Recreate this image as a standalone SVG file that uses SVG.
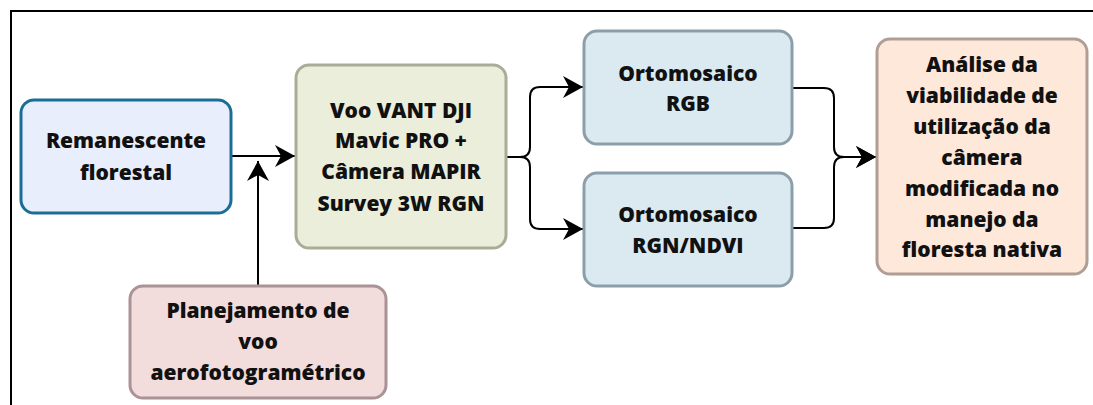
<svg xmlns="http://www.w3.org/2000/svg" width="1093" height="405" viewBox="0 0 1093 405">
<defs>
<style>
.box{stroke-width:3}
.t{font-family:"Open Sans","Noto Sans","DejaVu Sans",sans-serif;font-weight:800;font-size:21px;fill:#111;text-anchor:middle}
.c{fill:none;stroke:#000;stroke-width:2;marker-end:url(#ah)}
</style>
<marker id="ah" markerUnits="userSpaceOnUse" markerWidth="22" markerHeight="24" refX="20" refY="12" orient="auto">
<path d="M0,1 L20,12 L0,23 L6,12 z" fill="#000"/>
</marker>
</defs>
<rect width="1093" height="405" fill="#fff"/>
<path d="M11,405 V11 H1093" fill="none" stroke="#000" stroke-width="2"/>
<g id="connectors">
<path class="c" d="M232,156 H295"/>
<path class="c" d="M258,285 V161"/>
<path class="c" d="M507,157 H520 Q530,157 530,147 V97 Q530,87 540,87 H583"/>
<path class="c" d="M507,157 H520 Q530,157 530,167 V219 Q530,229 540,229 H583"/>
<path class="c" d="M793,88 H824 Q834,88 834,98 V147 Q834,157 844,157 H876"/>
<path class="c" d="M793,228 H824 Q834,228 834,218 V167 Q834,157 844,157 H876"/>
</g>
<g id="remanescente">
<rect class="box" x="21" y="100" width="210" height="113" rx="13" fill="#e8eefc" stroke="#1a6e96"/>
<text class="t" x="126" y="148">Remanescente</text>
<text class="t" x="126" y="180">florestal</text>
</g>
<g id="voo">
<rect class="box" x="296" y="65" width="210" height="183" rx="13" fill="#ebeedb" stroke="#a8ad97"/>
<text class="t" x="401" y="118">Voo VANT DJI</text>
<text class="t" x="401" y="148">Mavic PRO +</text>
<text class="t" x="401" y="179">Câmera MAPIR</text>
<text class="t" x="401" y="211">Survey 3W RGN</text>
</g>
<g id="rgb">
<rect class="box" x="584" y="31" width="208" height="113" rx="13" fill="#dbeaf1" stroke="#8c9fa9"/>
<text class="t" x="688" y="81">Ortomosaico</text>
<text class="t" x="688" y="111">RGB</text>
</g>
<g id="rgn">
<rect class="box" x="584" y="173" width="208" height="113" rx="13" fill="#dbeaf1" stroke="#8c9fa9"/>
<text class="t" x="688" y="222">Ortomosaico</text>
<text class="t" x="688" y="253">RGN/NDVI</text>
</g>
<g id="analise">
<rect class="box" x="877" y="39" width="210" height="235" rx="13" fill="#fde8da" stroke="#b09e95"/>
<text class="t" x="982" y="72">Análise da</text>
<text class="t" x="982" y="103">viabilidade de</text>
<text class="t" x="982" y="134">utilização da</text>
<text class="t" x="982" y="165">câmera</text>
<text class="t" x="982" y="196">modificada no</text>
<text class="t" x="982" y="227">manejo da</text>
<text class="t" x="982" y="257">floresta nativa</text>
</g>
<g id="planejamento">
<rect class="box" x="130" y="286" width="256" height="112" rx="13" fill="#f2dcdc" stroke="#ab9296"/>
<text class="t" x="258" y="318">Planejamento de</text>
<text class="t" x="258" y="349">voo</text>
<text class="t" x="258" y="380">aerofotogramétrico</text>
</g>
</svg>
